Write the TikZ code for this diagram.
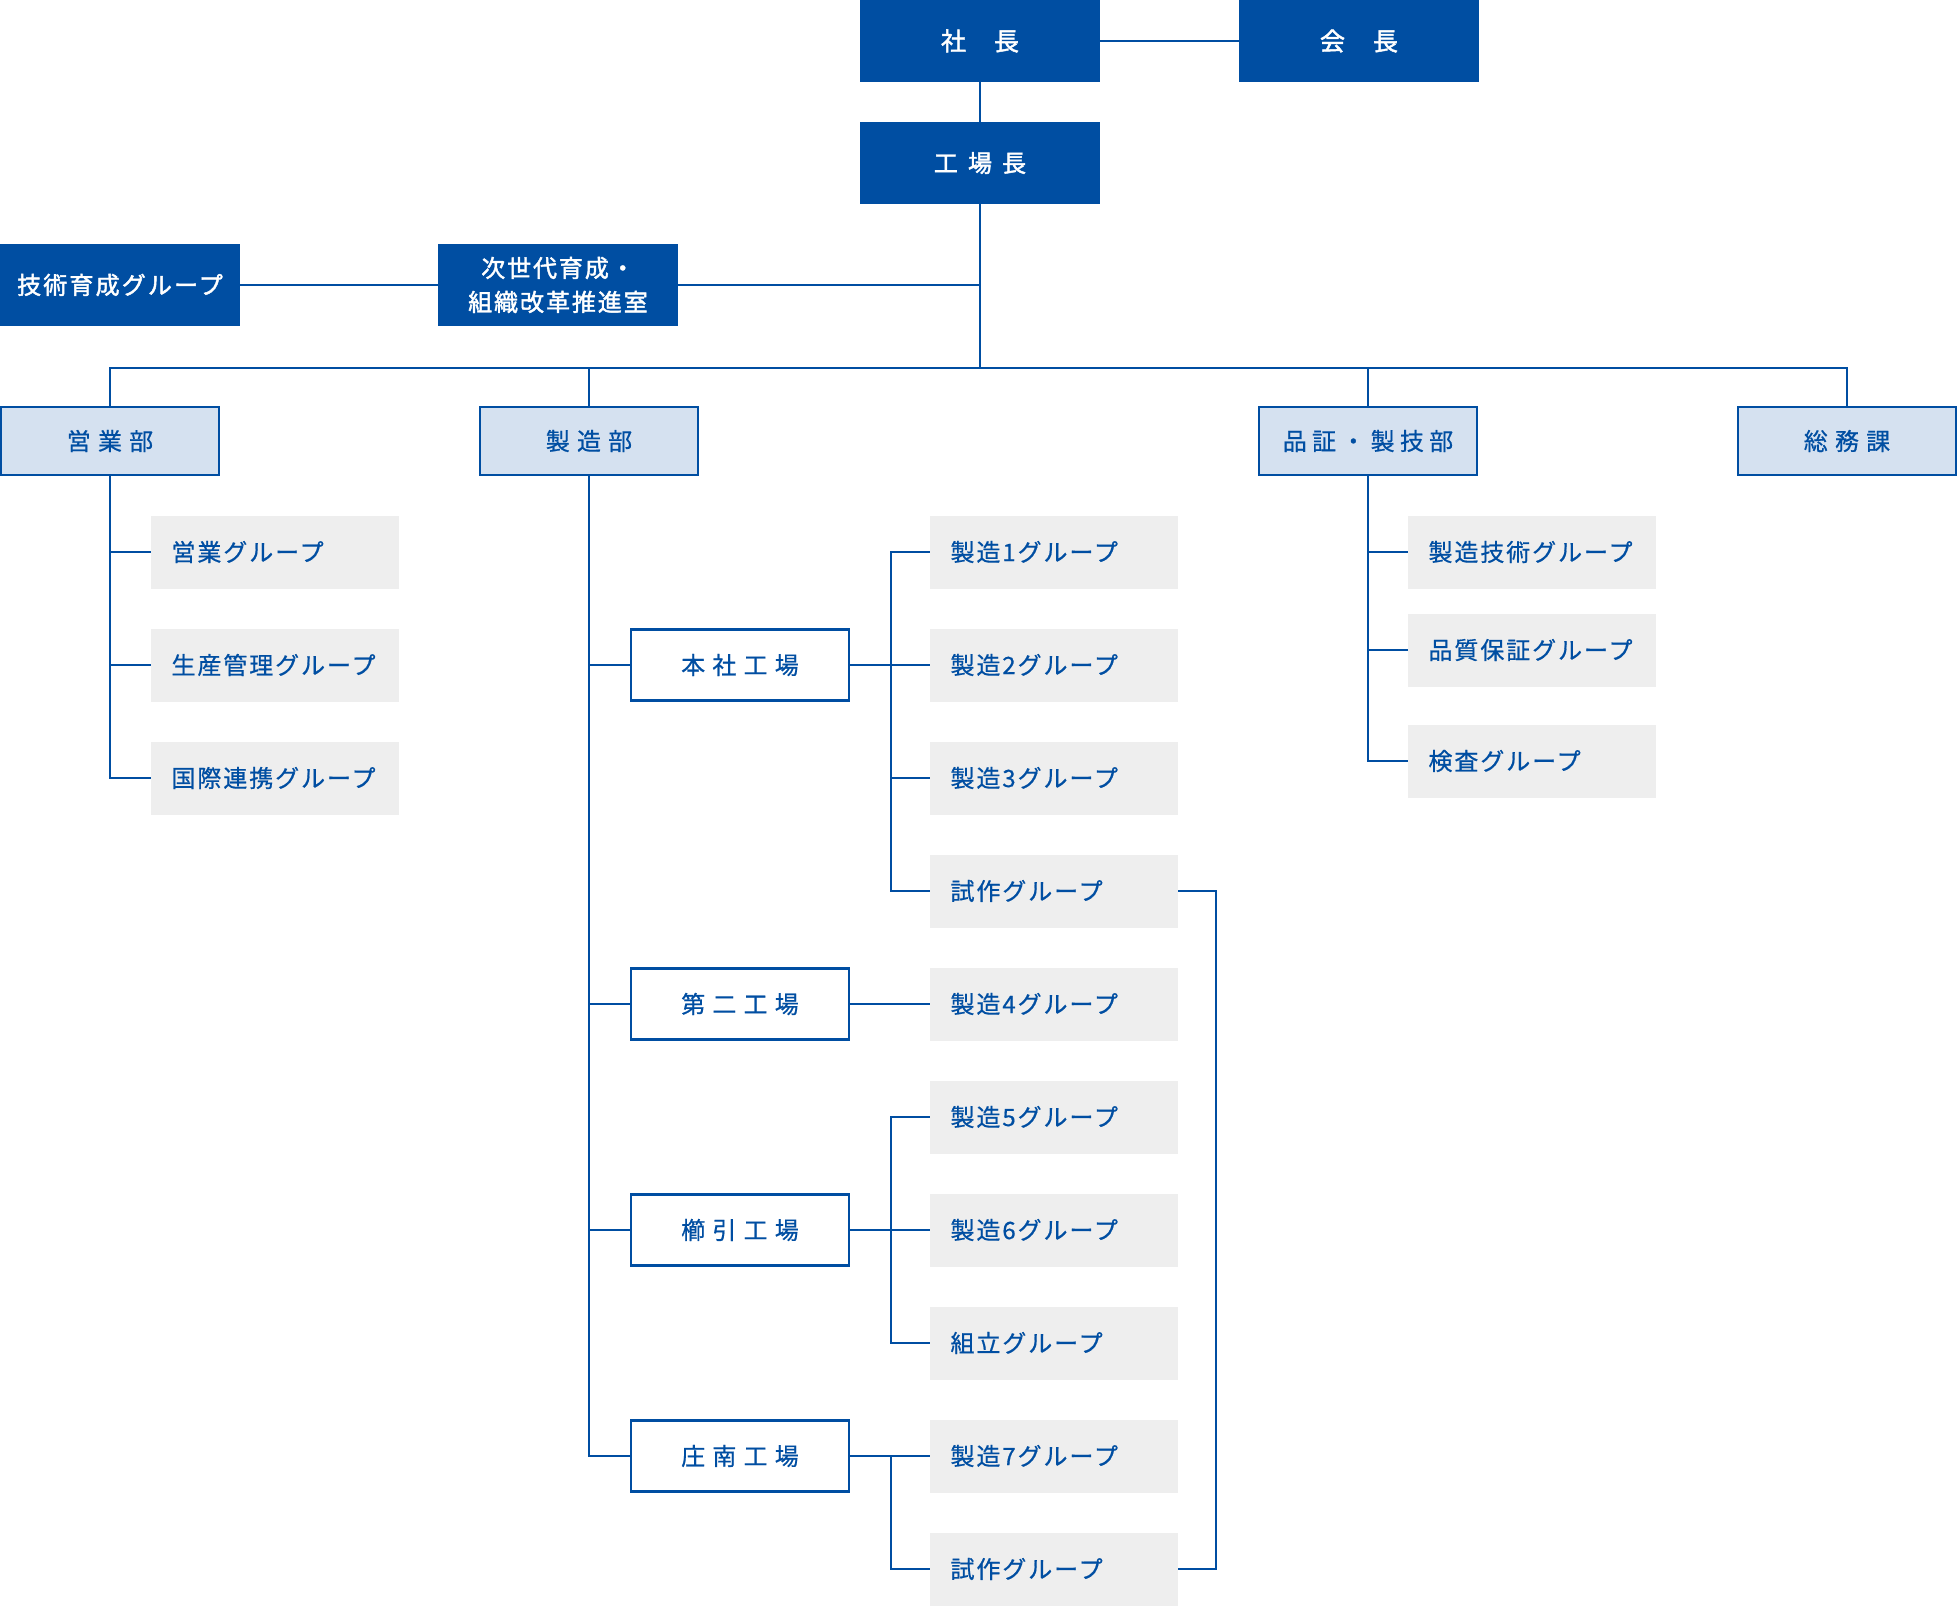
\documentclass[tikz,border=0pt]{standalone}
\usepackage{fontspec}
\newfontfamily\jpfont{Noto Sans CJK JP}[FakeBold=0.6]
\newfontfamily\jpmed{Noto Sans CJK JP}[FakeBold=1.8]
\definecolor{kon}{RGB}{0,78,162}
\definecolor{usuao}{RGB}{213,225,240}
\definecolor{haiiro}{RGB}{238,238,238}
\tikzset{
	topbox/.style={fill=kon,text=white,minimum width=240,minimum height=82,inner sep=0,
		align=center,font=\jpmed\fontsize{24}{34}\selectfont},
	deptbox/.style={fill=usuao,draw=kon,line width=2.5,text=kon,minimum width=218,
		minimum height=68,inner sep=0,font=\jpfont\fontsize{24}{30}\selectfont\addfontfeature{LetterSpace=30}},
	plantbox/.style={fill=white,draw=kon,line width=2.5,text=kon,minimum width=218,
		minimum height=71,inner sep=0,font=\jpfont\fontsize{24}{30}\selectfont\addfontfeature{LetterSpace=30}},
	grpbox/.style={fill=haiiro,text=kon,text width=207,align=left,minimum height=73,
		inner xsep=20.5,inner ysep=0,font=\jpfont\fontsize{24}{30}\selectfont\addfontfeature{LetterSpace=8}},
	conn/.style={draw=kon,line width=2}
}
\begin{document}
\begin{tikzpicture}[x=1pt,y=-1pt]
	\useasboundingbox (0,0) rectangle (1957,1606);
	%トップ
	\node[topbox,font=\jpmed\fontsize{25}{34}\selectfont\addfontfeature{LetterSpace=6}] (shacho) at (980,41) {社　長};
	\node[topbox,font=\jpmed\fontsize{25}{34}\selectfont\addfontfeature{LetterSpace=6}] (kaicho) at (1359,41) {会　長};
	\node[topbox,font=\jpmed\fontsize{24}{34}\selectfont\addfontfeature{LetterSpace=42}] (kojocho) at (980,163) {工場長};
	\node[topbox,font=\jpmed\fontsize{24}{34}\selectfont\addfontfeature{LetterSpace=9}] (gijutsu) at (120,285) {技術育成グループ};
	\node[topbox,font=\jpmed\fontsize{24}{34}\selectfont\addfontfeature{LetterSpace=8}] (jisedai) at (558,285) {次世代育成・\\組織改革推進室};
	\coordinate (bus) at (980,368);
	%部
	\node[deptbox] (eigyo) at (110,441) {営業部};
	\node[deptbox] (seizo) at (589,441) {製造部};
	\node[deptbox,font=\jpfont\fontsize{24}{30}\selectfont\addfontfeature{LetterSpace=22}] (hinsho) at (1368,441) {品証・製技部};
	\node[deptbox] (somu) at (1847,441) {総務課};
	%工場
	\node[plantbox] (honsha) at (740,665) {本社工場};
	\node[plantbox] (daini) at (740,1004) {第二工場};
	\node[plantbox] (kushibiki) at (740,1230) {櫛引工場};
	\node[plantbox] (shonan) at (740,1456) {庄南工場};
	%グループ
	\node[grpbox] (g-eigyo) at (275,552) {営業グループ};
	\node[grpbox] (g-seisan) at (275,665) {生産管理グループ};
	\node[grpbox] (g-kokusai) at (275,778) {国際連携グループ};
	\node[grpbox] (g-s1) at (1054,552) {製造1グループ};
	\node[grpbox] (g-s2) at (1054,665) {製造2グループ};
	\node[grpbox] (g-s3) at (1054,778) {製造3グループ};
	\node[grpbox] (g-shisaku) at (1054,891) {試作グループ};
	\node[grpbox] (g-s4) at (1054,1004) {製造4グループ};
	\node[grpbox] (g-s5) at (1054,1117) {製造5グループ};
	\node[grpbox] (g-s6) at (1054,1230) {製造6グループ};
	\node[grpbox] (g-kumitate) at (1054,1343) {組立グループ};
	\node[grpbox] (g-s7) at (1054,1456) {製造7グループ};
	\node[grpbox] (g-shisaku2) at (1054,1569) {試作グループ};
	\node[grpbox] (g-gijutsu) at (1532,552) {製造技術グループ};
	\node[grpbox] (g-hinshitsu) at (1532,650) {品質保証グループ};
	\node[grpbox] (g-kensa) at (1532,761) {検査グループ};
	\coordinate (hj) at (891,0);
	%線
	\draw[conn] (shacho) -- (kaicho);
	\draw[conn] (shacho) -- (kojocho);
	\draw[conn] (kojocho.south) -- (bus);
	\draw[conn] (jisedai) -- (jisedai -| bus);
	\draw[conn] (gijutsu) -- (jisedai);
	\draw[conn] (eigyo.north) -- (eigyo.north |- bus) -- (somu.north |- bus) -- (somu.north);
	\draw[conn] (seizo.north) -- (seizo.north |- bus);
	\draw[conn] (hinsho.north) -- (hinsho.north |- bus);
	%営業部
	\draw[conn] (eigyo.south) |- (g-kokusai.west);
	\draw[conn] (eigyo.south |- g-eigyo.west) -- (g-eigyo.west);
	\draw[conn] (eigyo.south |- g-seisan.west) -- (g-seisan.west);
	%製造部
	\draw[conn] (seizo.south) |- (shonan.west);
	\draw[conn] (seizo.south |- honsha.west) -- (honsha.west);
	\draw[conn] (seizo.south |- daini.west) -- (daini.west);
	\draw[conn] (seizo.south |- kushibiki.west) -- (kushibiki.west);
	\draw[conn] (honsha.east) -- (g-s2.west);
	\draw[conn] (g-s1.west) -- (g-s1.west -| hj) -- (g-shisaku.west -| hj) -- (g-shisaku.west);
	\draw[conn] (g-s3.west -| hj) -- (g-s3.west);
	\draw[conn] (daini.east) -- (g-s4.west);
	\draw[conn] (kushibiki.east) -- (g-s6.west);
	\draw[conn] (g-s5.west) -- (g-s5.west -| hj) -- (g-kumitate.west -| hj) -- (g-kumitate.west);
	\draw[conn] (shonan.east) -- (g-s7.west);
	\draw[conn] (g-s7.west -| hj) |- (g-shisaku2.west);
	\draw[conn] (g-shisaku.east) -- ++(38,0) |- (g-shisaku2.east);
	%品証・製技部
	\draw[conn] (hinsho.south) |- (g-kensa.west);
	\draw[conn] (hinsho.south |- g-gijutsu.west) -- (g-gijutsu.west);
	\draw[conn] (hinsho.south |- g-hinshitsu.west) -- (g-hinshitsu.west);
\end{tikzpicture}
\end{document}
